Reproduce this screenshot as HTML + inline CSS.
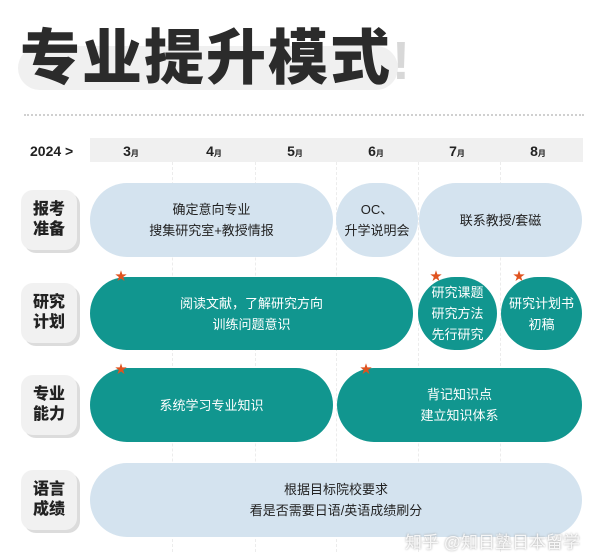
<!DOCTYPE html>
<html><head><meta charset="utf-8"><style>
body{margin:0;width:600px;height:555px;background:#fff;position:relative;overflow:hidden;font-family:"Liberation Sans","Noto Sans CJK SC",sans-serif;}
.a{position:absolute;}
.t{left:20px;top:22px;font-size:60px;font-weight:900;color:#2b2b2b;letter-spacing:2px;line-height:74px;white-space:nowrap;}
.hl{left:18px;top:46px;width:380px;height:44px;background:#f0f0f0;border-radius:22px;}
.dot{left:24px;top:114px;width:560px;border-top:2px dotted #d0d0d0;}
.hdr{left:90px;top:138px;width:493px;height:24px;background:#f0f0f0;}
.m{top:140px;font-size:14px;font-weight:bold;color:#222;width:40px;text-align:center;line-height:22px;}
.m small{font-size:8px;}
.vl{top:162px;height:390px;border-left:1px dashed #ececec;}
.lab{left:21px;width:56px;height:60px;background:#f1f1f1;border-radius:12px;box-shadow:3px 3px 0 #dcdcdc;font-size:16px;font-weight:900;color:#222;text-align:center;line-height:20px;display:flex;align-items:center;justify-content:center;}
.p{border-radius:37px;display:flex;align-items:center;justify-content:center;text-align:center;font-size:13px;line-height:21px;}
.lb{background:#d4e3ef;color:#222;}
.tl{background:#11968f;color:#fff;}
.star{color:#e0531f;font-size:12px;line-height:12px;}
</style></head><body>
<div class="a hl"></div>
<div class="a t">专业提升模式<span style="color:#d8d8d8;font-size:54px;">!</span></div>
<div class="a dot"></div>
<div class="a" style="left:30px;top:140px;font-size:14px;font-weight:bold;line-height:22px;color:#222">2024 &gt;</div>
<div class="a hdr"></div>
<div class="a vl" style="left:172px"></div><div class="a vl" style="left:255px"></div><div class="a vl" style="left:336px"></div><div class="a vl" style="left:418px"></div><div class="a vl" style="left:500px"></div>
<div class="a m" style="left:111px">3<small>月</small></div>
<div class="a m" style="left:194px">4<small>月</small></div>
<div class="a m" style="left:275px">5<small>月</small></div>
<div class="a m" style="left:356px">6<small>月</small></div>
<div class="a m" style="left:437px">7<small>月</small></div>
<div class="a m" style="left:518px">8<small>月</small></div>

<div class="a lab" style="top:190px">报考<br>准备</div>
<div class="a lab" style="top:283px">研究<br>计划</div>
<div class="a lab" style="top:375px">专业<br>能力</div>
<div class="a lab" style="top:470px">语言<br>成绩</div>

<div class="a p lb" style="left:90px;top:183px;width:243px;height:74px">确定意向专业<br>搜集研究室+教授情报</div>
<div class="a p lb" style="left:336px;top:183px;width:82px;height:74px">OC、<br>升学说明会</div>
<div class="a p lb" style="left:419px;top:183px;width:163px;height:74px">联系教授/套磁</div>

<div class="a p tl" style="left:90px;top:277px;width:323px;height:73px">阅读文献，了解研究方向<br>训练问题意识</div>
<div class="a p tl" style="left:418px;top:277px;width:79px;height:73px">研究课题<br>研究方法<br>先行研究</div>
<div class="a p tl" style="left:501px;top:277px;width:81px;height:73px">研究计划书<br>初稿</div>

<div class="a p tl" style="left:90px;top:368px;width:243px;height:74px">系统学习专业知识</div>
<div class="a p tl" style="left:337px;top:368px;width:245px;height:74px">背记知识点<br>建立知识体系</div>

<div class="a p lb" style="left:90px;top:463px;width:492px;height:74px">根据目标院校要求<br>看是否需要日语/英语成绩刷分</div>

<div class="a star" style="left:115px;top:270px">★</div>
<div class="a star" style="left:430px;top:270px">★</div>
<div class="a star" style="left:513px;top:270px">★</div>
<div class="a star" style="left:115px;top:363px">★</div>
<div class="a star" style="left:360px;top:363px">★</div>
<div class="a" style="left:405px;top:528px;font-size:17px;color:rgba(255,255,255,0.85);text-shadow:0 0 2px #999">知乎 @知日塾日本留学</div>
</body></html>
